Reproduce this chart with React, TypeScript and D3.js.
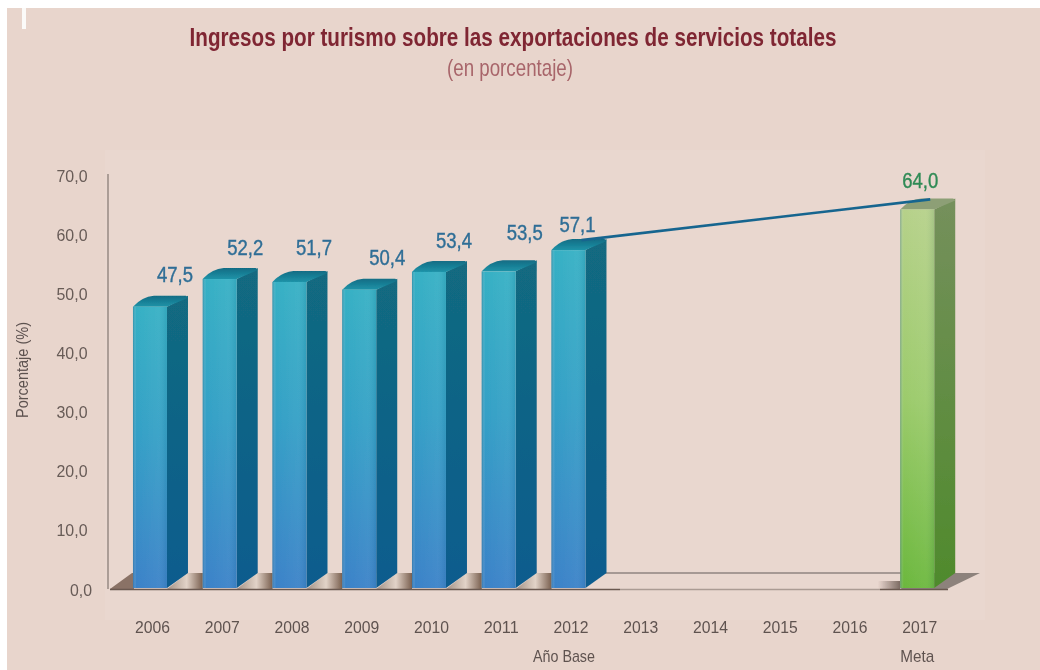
import React from "react";
import * as d3 from "d3";

const years = ["2006","2007","2008","2009","2010","2011","2012","2013","2014","2015","2016","2017"];
const values: (number|null)[] = [47.5,52.2,51.7,50.4,53.4,53.5,57.1,null,null,null,null,64.0];
const labels = ["47,5","52,2","51,7","50,4","53,4","53,5","57,1","","","","","64,0"];
const yTicks = [0,10,20,30,40,50,60,70];
const subLabels: Record<string,string> = { "2012": "Año Base", "2017": "Meta" };
const labelOffsets = [[25,-25],[25.5,-24],[24.5,-27],[28,-25],[25,-24],[26,-31],[9,-18],[0,0],[0,0],[0,0],[0,0],[3,-21]];

const W = 1040, H = 670;
const DX = 21, DY = 11, BW = 34;
const FONT = "'Liberation Sans', Arial, sans-serif";

const y = d3.scaleLinear().domain([0,70]).range([587,174]);
const yLabel = d3.scaleLinear().domain([0,70]).range([595.5,182]);
const x = d3.scaleBand<string>().domain(years).range([133-17.9, 133-17.9+69.75*12]).paddingInner(0).paddingOuter(0);
const left = (yr: string) => x(yr)! + (x.bandwidth()-BW)/2;

function Txt({x:tx,y:ty,w,size,fill,anchor="middle",weight,children,extra}: any){
  return <text x={tx} y={ty} textLength={w} lengthAdjust="spacingAndGlyphs" fontSize={size} fill={fill} textAnchor={anchor} fontWeight={weight} fontFamily={FONT} {...extra}>{children}</text>;
}

export default function App(){
  const g = years.map((yr,i)=>({yr,i,v:values[i]})).filter(d=>d.v!=null) as {yr:string,i:number,v:number}[];
  const isGreen = (yr:string)=>yr==="2017";
  const line = d3.line<{yr:string,v:number}>().x(d=>left(d.yr)+BW/2+DX-8).y(d=>y(d.v)-DY+1);
  const lineData = g.filter(d=>d.yr==="2012"||d.yr==="2017");
  const y0 = y(0);
  return (
    <svg width={W} height={H} viewBox={`0 0 ${W} ${H}`} style={{position:"absolute",left:0,top:0,display:"block",background:"#fff"}}>
      <defs>
        <linearGradient id="fb" x1="0" y1="0" x2="0" y2="1"><stop offset="0" stopColor="#36b0c4"/><stop offset="0.45" stopColor="#34a0c6"/><stop offset="1" stopColor="#3b82c8"/></linearGradient>
        <linearGradient id="fbH" x1="0" y1="0" x2="1" y2="0"><stop offset="0" stopColor="#1d5f80" stopOpacity=".4"/><stop offset="0.1" stopColor="#fff" stopOpacity="0"/><stop offset="0.75" stopColor="#fff" stopOpacity="0.05"/><stop offset="1" stopColor="#0a4060" stopOpacity="0.1"/></linearGradient>
        <linearGradient id="sb" x1="0" y1="0" x2="0" y2="1"><stop offset="0" stopColor="#126a80"/><stop offset="1" stopColor="#0c5c8e"/></linearGradient>
        <linearGradient id="tb" x1="0" y1="1" x2="0" y2="0"><stop offset="0" stopColor="#1f93a8"/><stop offset="1" stopColor="#116c84"/></linearGradient>
        <linearGradient id="fg" x1="0" y1="0" x2="0" y2="1"><stop offset="0" stopColor="#b6d18a"/><stop offset="0.5" stopColor="#9ccb6c"/><stop offset="1" stopColor="#6cb83e"/></linearGradient>
        <linearGradient id="sg" x1="0" y1="0" x2="0" y2="1"><stop offset="0" stopColor="#75905c"/><stop offset="1" stopColor="#4f8a2c"/></linearGradient>
        <linearGradient id="floor" x1="0" y1="0" x2="1" y2="0"><stop offset="0" stopColor="#a39184"/><stop offset="0.55" stopColor="#e2d3c8"/><stop offset="1" stopColor="#7a6050"/></linearGradient>
        <linearGradient id="shade" x1="0" y1="0" x2="1" y2="0"><stop offset="0" stopColor="#6a5850" stopOpacity="0"/><stop offset="1" stopColor="#6a5850" stopOpacity=".85"/></linearGradient>
        <filter id="soft" x="-2%" y="-2%" width="104%" height="104%"><feGaussianBlur stdDeviation="0.6"/></filter>
      </defs>
      <rect x={7} y={8} width={W-7} height={H-8} fill="#e8d5cc"/>
      <rect x={22} y={8} width={4} height={21} fill="#fbfaf8"/>
      <rect x={105} y={150} width={880} height={470} fill="#e9d7cf"/>
      <g filter="url(#soft)">
        <Txt x={513} y={46} w={647} size={26} fill="#7f2533" weight="bold">Ingresos por turismo sobre las exportaciones de servicios totales</Txt>
        <Txt x={510} y={76} w={126} size={24} fill="#a8656a">(en porcentaje)</Txt>

        <line x1={108} x2={108} y1={y(70)} y2={y0+2} stroke="#9c8f88" strokeWidth={1.6}/>
        {yTicks.map(t=>(
          <Txt key={t} x={t===0?92:87.5} y={yLabel(t)} w={t===0?22:31} size={16.5} fill="#675b57" anchor="end">{t.toFixed(1).replace(".",",")}</Txt>
        ))}
        <Txt x={0} y={0} w={96} size={16} fill="#5d5250" extra={{transform:"translate(28,370) rotate(-90)"}}>Porcentaje (%)</Txt>

        <polygon points={`900,${y0+2} 932,${y0-14} 980,${y0-14} 947,${y0+2}`} fill="#8d827c"/>
        {years.slice(0,6).map(yr=>{
          const b = left(yr);
          return <polygon key={yr} points={`${b+BW},${y0+2} ${b+BW+DX},${y0-14} ${b+69.75},${y0-14} ${b+69.75},${y0+2}`} fill="url(#floor)"/>;
        })}
        <polygon points={`110,${y0+2} 132,${y0-14} 134,${y0-14} 134,${y0+2}`} fill="#8a7266"/>
        <rect x={878} y={y0-6} width={22} height={8} fill="url(#shade)"/>
        <line x1={590} x2={905} y1={y0-14} y2={y0-14} stroke="#8f8580" strokeWidth={1.4}/>
        <line x1={110} x2={620} y1={y0+2.5} y2={y0+2.5} stroke="#6a5850" strokeWidth={1.6}/>
        <line x1={620} x2={880} y1={y0+2.5} y2={y0+2.5} stroke="#ab9b93" strokeWidth={1.4}/>
        <line x1={880} x2={948} y1={y0+2.5} y2={y0+2.5} stroke="#6a5850" strokeWidth={1.6}/>

        {g.map(d=>{
          const b = left(d.yr), t = y(d.v), green = isGreen(d.yr);
          return <g key={d.yr}>
            <polygon points={`${b+BW},${t} ${b+BW+DX},${t-DY} ${b+BW+DX},${y0-14} ${b+BW},${y0+1}`} fill={`url(#${green?"sg":"sb"})`}/>
            <path d={`M${b},${t} Q${b+9},${t-10} ${b+21},${t-DY} L${b+BW+DX-2},${t-DY} L${b+BW+DX},${t-DY+2} L${b+BW},${t} Z`} fill={green?"#8d9f76":"url(#tb)"}/>
            <rect x={b} y={t} width={BW} height={y0+1-t} fill={`url(#${green?"fg":"fb"})`}/>
            <rect x={b} y={t} width={BW} height={y0+1-t} fill="url(#fbH)"/>
          </g>;
        })}

        <path d={line(lineData)!} fill="none" stroke="#17658f" strokeWidth={2.6}/>

        {g.map(d=>(
          <Txt key={d.yr} x={left(d.yr)+BW/2+labelOffsets[d.i][0]} y={y(d.v)+labelOffsets[d.i][1]} w={36} size={22} fill={isGreen(d.yr)?"#2f8a55":"#2f6e96"} extra={{stroke:isGreen(d.yr)?"#2f8a55":"#2f6e96",strokeWidth:0.4}}>{labels[d.i]}</Txt>
        ))}

        {years.map(yr=>(
          <Txt key={yr} x={left(yr)+BW/2+2.5} y={633} w={35} size={17} fill="#5f5350">{yr}</Txt>
        ))}
        {years.filter(yr=>subLabels[yr]).map(yr=>(
          <Txt key={yr} x={left(yr)+BW/2+(yr==="2012"?-4.5:0)} y={662} w={yr==="2012"?62:34} size={17} fill="#5f5350">{subLabels[yr]}</Txt>
        ))}
      </g>
    </svg>
  );
}
